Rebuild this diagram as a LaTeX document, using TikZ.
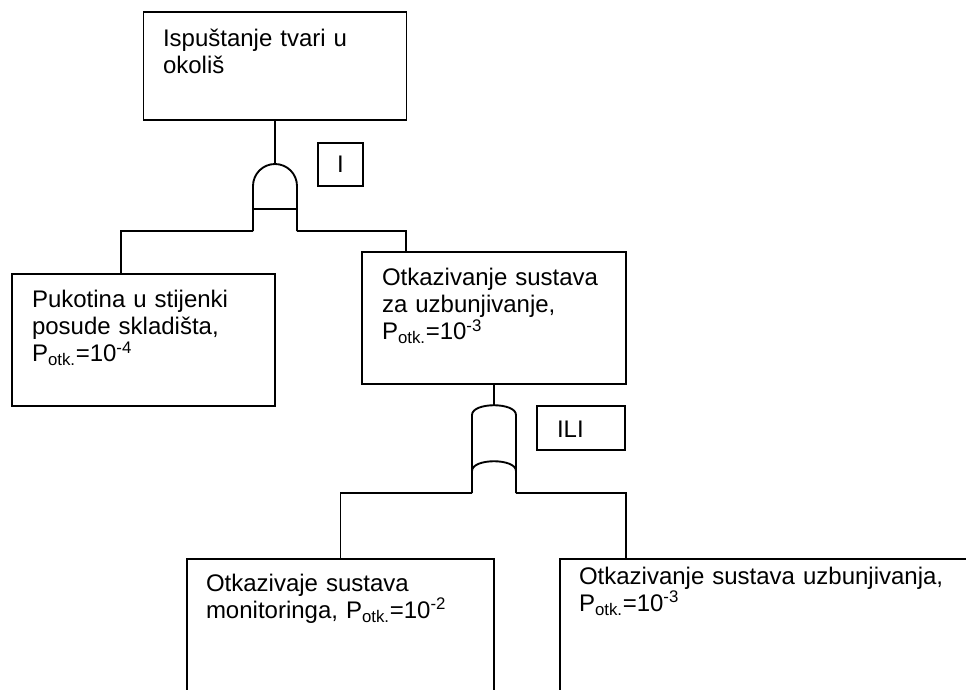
\documentclass[tikz,border=0pt]{standalone}
\usepackage{fontspec}
\setmainfont{Liberation Sans}
\newcommand\boxfont{\fontsize{18}{20.5}\selectfont}
\begin{document}
\lineskiplimit=-20pt
\begin{tikzpicture}[x=0.75pt,y=-0.75pt,
  line width=1.4pt,
  every node/.style={inner sep=0pt, outer sep=0pt},
  event/.style={draw, line width=1.4pt, rectangle},
  gatelabel/.style={draw, line width=1.4pt, rectangle, font=\boxfont},
  caption/.style={anchor=base west, align=left, text width=#1, font=\boxfont}]
\useasboundingbox (0,0) rectangle (966,689);
\clip (0,0) rectangle (966,689);

% event boxes
\node[event, minimum width=197.25pt, minimum height=81pt] (top) at (275,66) {};
\node[event, minimum width=197.25pt, minimum height=99pt] (lbox) at (143.5,340) {};
\node[event, minimum width=198pt, minimum height=99pt] (mbox) at (494,318) {};
\node[event, minimum width=230.25pt, minimum height=120pt] (blbox) at (340.5,639) {};
\node[event, minimum width=330pt, minimum height=120pt] (brbox) at (780,639) {};

% box texts
\node[caption=190pt] (toptext) at (163,46) {Ispuštanje tvari u\\okoliš};
\node[caption=190pt] (ltext) at (32,307) {Pukotina u stijenki\\posude skladišta,\\P\textsubscript{otk.}=10\textsuperscript{-4}};
\node[caption=190pt] (mtext) at (382,285) {Otkazivanje sustava\\za uzbunjivanje,\\P\textsubscript{otk.}=10\textsuperscript{-3}};
\node[caption=215pt] (bltext) at (206,591) {Otkazivaje sustava\\monitoringa, P\textsubscript{otk.}=10\textsuperscript{-2}};
\node[caption=290pt] (brtext) at (579,584) {Otkazivanje sustava uzbunjivanja,\\P\textsubscript{otk.}=10\textsuperscript{-3}};

% gate labels
\node[gatelabel, minimum width=33.75pt, minimum height=32.25pt] (andlabel) at (340.5,164.5) {I};
\node[gatelabel, minimum width=66pt, minimum height=33pt] (orlabel) at (581,428) {};
\node[anchor=base west, font=\boxfont] (ortext) at (557,437) {ILI};

% AND gate
\coordinate (andtop) at (275,164);
\coordinate (andL) at (253,231);
\coordinate (andR) at (297,231);
\draw (andL) -- (253,186) .. controls (253,173.85) and (262.85,164) .. (andtop)
  .. controls (287.15,164) and (297,173.85) .. (297,186) -- (andR);
\draw (253,209) -- (297,209);

% OR gate
\coordinate (ortop) at (494,405);
\coordinate (orL) at (472,493);
\coordinate (orR) at (516,493);
\draw (orL) -- (472,415) .. controls (472,402) and (516,402) .. (516,415) -- (orR);
\draw (472,471) .. controls (472,458) and (516,458) .. (516,471);

% connectors
\draw (top.south) -- (andtop);
\draw (andL) -| ([xshift=-16.875pt]lbox.north);
\draw (andR) -| ([xshift=-66pt]mbox.north);
\draw (mbox.south) -- (ortop);
\draw (orL) -| (blbox.north);
\draw (orR) -| ([xshift=-115.5pt]brbox.north);
\end{tikzpicture}
\end{document}
